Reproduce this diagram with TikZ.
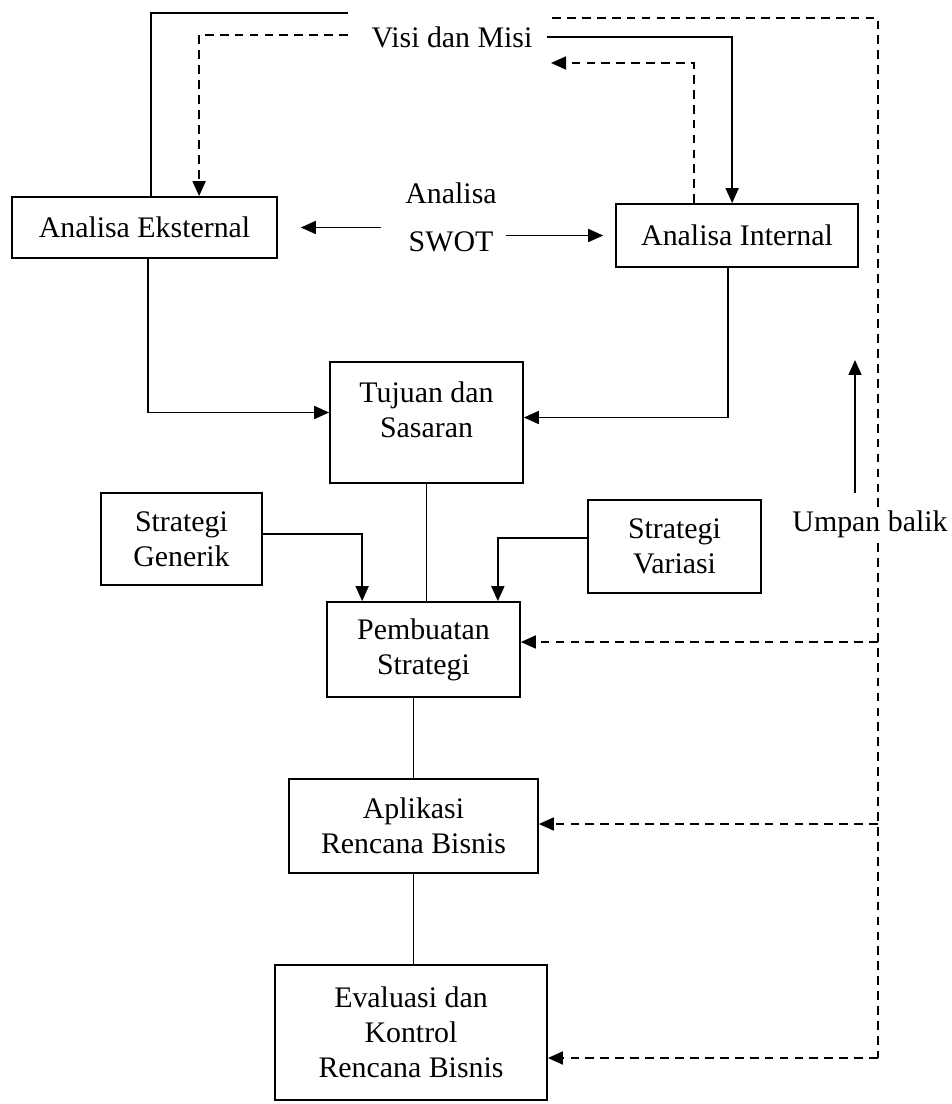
\documentclass[tikz,border=0pt]{standalone}
\usepackage{fontspec}
\setmainfont{Liberation Serif}
\usetikzlibrary{
    arrows.meta,
    calc,
    positioning
}
\tikzset{kotak/.style={draw=black, align=center, inner sep=2pt}}
\tikzset{teks/.style={align=center, inner sep=2pt}}
\tikzset{panah/.style={-{Triangle[length=0.3cm, width=0.26cm]}}}
\tikzset{putus/.style={dash pattern=on 5pt off 3.5pt}}

\begin{document}
\begin{tikzpicture}[x=0.02cm, y=-0.02cm, line width=1pt, font=\fontsize{17}{20}\selectfont]
                        \useasboundingbox (0, 0) rectangle (952, 1104);
                        \node[teks] (visi) at (452, 37) {Visi dan Misi};
                        \node[kotak, minimum width=5.3cm, minimum height=1.22cm] (eks) at (144.5, 227.5) {Analisa Eksternal};
                        \node[kotak, minimum width=4.84cm, minimum height=1.26cm] (int) at (737, 235.5) {Analisa Internal};
                        \node[teks] (anl) at (451, 193) {Analisa};
                        \node[teks] (swot) at (451, 242) {SWOT};
                        \node[kotak, minimum width=3.86cm, minimum height=2.42cm] (tuj) at (426.5, 422.5) {};
                        \node[teks] (tujt) at (426.5, 410) {Tujuan dan\\Sasaran};
                        \node[kotak, minimum width=3.22cm, minimum height=1.84cm] (gen) at (181.5, 539) {Strategi\\Generik};
                        \node[kotak, minimum width=3.46cm, minimum height=1.86cm] (var) at (674.5, 546.5) {Strategi\\Variasi};
                        \node[kotak, minimum width=3.86cm, minimum height=1.9cm] (buat) at (423.5, 649.5) {Pembuatan\\Strategi};
                        \node[kotak, minimum width=4.98cm, minimum height=1.88cm] (apl) at (413.5, 826) {Aplikasi\\Rencana Bisnis};
                        \node[kotak, minimum width=5.44cm, minimum height=2.7cm] (eval) at (411, 1032.5) {Evaluasi dan\\Kontrol\\Rencana Bisnis};
                        \coordinate (v1) at (348, 13);
                        \coordinate (v2) at (348, 35);
                        \coordinate (v3) at (551, 63);
                        \coordinate (v4) at (552, 18);
                        \coordinate (k1) at (878, 642);
                        \coordinate (k2) at (878, 824);
                        \coordinate (k3) at (878, 1058);
                        \coordinate (u1) at (855, 493);
                        \coordinate (u2) at (855, 360);
                        % visi dan misi
                        \draw
                        ([xshift=2.8cm]eks.north west) |- (v1);
                        \draw[putus, panah]
                        (v2) -| ([xshift=3.76cm]eks.north west);
                        \draw[panah]
                        ([xshift=0.2cm]visi.east) -| ([xshift=2.34cm]int.north west);
                        \draw[putus, panah]
                        ([xshift=1.58cm]int.north west) |- (v3);
                        % swot
                        \draw[panah]
                        ([xshift=-0.46cm]swot.west |- eks.east) -- ([xshift=0.46cm]eks.east);
                        \draw[panah]
                        ([xshift=0.16cm]swot.east |- int.west) -- ([xshift=-0.24cm]int.west);
                        % ke tujuan dan strategi
                        \draw[panah]
                        ([xshift=2.74cm]eks.south west) |- ([yshift=0.2cm]tuj.west);
                        \draw[panah]
                        ([xshift=2.26cm]int.south west) |- ([yshift=0.1cm]tuj.east);
                        \draw
                        (tuj.south) -- (tuj.south |- buat.north)
                        (apl.north |- buat.south) -- (apl.north)
                        (apl.south) -- (apl.south |- eval.north);
                        \draw[panah]
                        ([yshift=0.1cm]gen.east) -| ([xshift=0.72cm]buat.north west);
                        \draw[panah]
                        ([yshift=0.17cm]var.west) -| ([xshift=-0.46cm]buat.north east);
                        % umpan balik
                        \draw[putus] (v4) -| (k3);
                        \draw[putus, panah] (k1) -- (k1 -| buat.east);
                        \draw[putus, panah] (k2) -- (k2 -| apl.east);
                        \draw[putus, panah] (k3) -- (k3 -| eval.east);
                        \node[teks, fill=white] (umpan) at (870, 524) {Umpan balik};
                        \draw[panah] (u1) -- (u2);
                    \end{tikzpicture}
\end{document}
